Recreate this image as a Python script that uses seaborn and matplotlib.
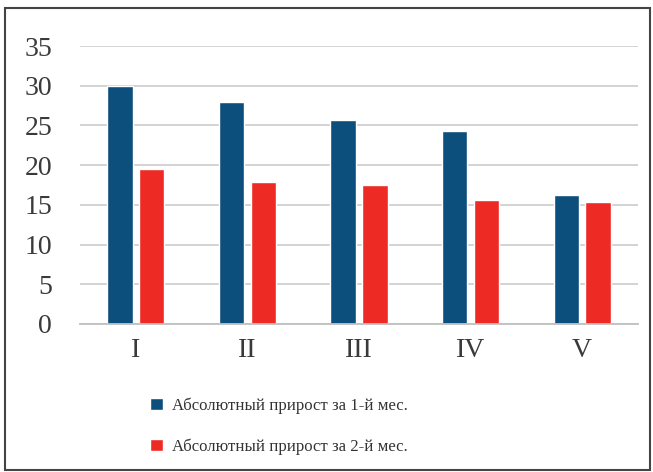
import numpy as np
import pandas as pd
import matplotlib
matplotlib.use("Agg")
import matplotlib.pyplot as plt
import seaborn as sns
from matplotlib.patches import Rectangle

# Data
groups = ["I", "II", "III", "IV", "V"]
month1 = [30.0, 28.0, 25.7, 24.3, 16.2]
month2 = [19.5, 17.9, 17.5, 15.6, 15.4]
series_names = ["Абсолютный прирост за 1-й мес.", "Абсолютный прирост за 2-й мес."]
yticks = [0, 5, 10, 15, 20, 25, 30, 35]

df = pd.DataFrame({
    "group": groups * 2,
    "value": month1 + month2,
    "series": [series_names[0]] * len(groups) + [series_names[1]] * len(groups),
})

sns.set_theme(style="white")
plt.rcParams["font.family"] = ["Liberation Serif", "DejaVu Serif"]

fig = plt.figure(figsize=(6.53, 4.72), dpi=100)
ax = fig.add_axes([0.1225, 0.3136, 0.8545, 0.5889])

sns.barplot(data=df, x="group", y="value", hue="series",
            palette=["#0d4f7c", "#ee2a25"], width=0.57, gap=0.2,
            saturation=1, ax=ax, legend=True)

ax.set_ylim(0, 35)
ax.set_yticks(yticks)
ax.set_xlabel("")
ax.set_ylabel("")
ax.grid(axis="y", color="#d0d0d0", linewidth=1.3)
ax.set_axisbelow(True)
for s in ["top", "right", "left"]:
    ax.spines[s].set_visible(False)
ax.spines["bottom"].set_color("#bfbfbf")
ax.spines["bottom"].set_linewidth(1.3)
ax.tick_params(axis="both", length=0, labelsize=20, colors="#3a3a3a", pad=10)
ax.tick_params(axis="y", pad=20)

handles, labels = ax.get_legend_handles_labels()
ax.get_legend().remove()
fig.legend(handles, labels, loc="upper left", bbox_to_anchor=(0.207, 0.19),
           frameon=False, fontsize=12.1, handlelength=0.75, handleheight=0.75,
           labelspacing=1.45, handletextpad=0.55, labelcolor="#333333")

# outer frame
fig.patches.append(Rectangle((0.008, 0.004), 0.987, 0.978, transform=fig.transFigure,
                             fill=False, edgecolor="#444444", linewidth=1.5))

fig.savefig("out.png", dpi=100)
